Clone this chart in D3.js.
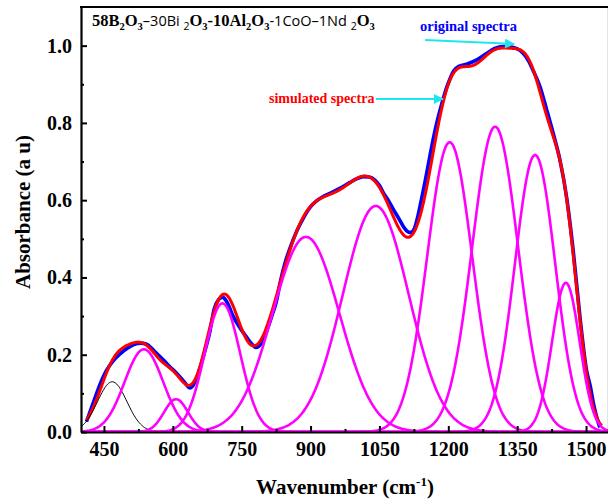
<!DOCTYPE html>
<meta charset="utf-8">
<style>
body { margin: 0; background: #fff; }
</style>
<body>
<script src="https://d3js.org/d3.v7.min.js"></script>
<script>

// Chart data.

var xTicks = [450, 600, 750, 900, 1050, 1200, 1350, 1500];
var xMinorTicks = [525, 675, 825, 975, 1125, 1275, 1425];
var yTicks = [0, 0.2, 0.4, 0.6, 0.8, 1.0];
var yMinorTicks = [0.1, 0.3, 0.5, 0.7, 0.9];

// Fitted gaussian components (magenta): centre, height, width (sigma) in cm-1.
var peakCenter = [537, 607, 708, 890, 1042, 1203, 1302, 1389, 1456];
var peakHeight = [0.214, 0.085, 0.333, 0.505, 0.585, 0.75, 0.79, 0.717, 0.386];
var peakSigma = [42, 26, 39, 73, 72, 49, 50, 44, 30];

// Extra component drawn in black.
var blackCenter = [468];
var blackHeight = [0.13];
var blackSigma = [32];

var origWavenumber = [412, 425, 441, 455, 470, 485, 500, 515, 529, 543, 555, 565, 580, 594, 605, 616, 628, 637, 645, 652, 659, 670, 681, 690, 700, 708, 718, 732, 746, 761, 772, 781, 792, 804, 815, 826, 834, 845, 855, 870, 884, 898, 913, 930, 950, 968, 986, 1000, 1015, 1028, 1040, 1050, 1058, 1070, 1080, 1092, 1102, 1110, 1118, 1126, 1134, 1142, 1150, 1160, 1172, 1186, 1196, 1204, 1212, 1222, 1240, 1262, 1284, 1300, 1313, 1330, 1342, 1353, 1363, 1375, 1385, 1400, 1414, 1428, 1443, 1458, 1472, 1487, 1501, 1509, 1516, 1524, 1530];
var origAbsorbance = [0.027, 0.07, 0.122, 0.158, 0.184, 0.202, 0.216, 0.226, 0.23, 0.227, 0.215, 0.203, 0.186, 0.168, 0.156, 0.142, 0.125, 0.114, 0.122, 0.14, 0.165, 0.21, 0.262, 0.318, 0.343, 0.349, 0.336, 0.298, 0.27, 0.245, 0.228, 0.219, 0.228, 0.26, 0.298, 0.34, 0.388, 0.44, 0.475, 0.52, 0.553, 0.58, 0.598, 0.611, 0.622, 0.633, 0.646, 0.655, 0.661, 0.66, 0.652, 0.638, 0.62, 0.598, 0.577, 0.553, 0.532, 0.52, 0.516, 0.526, 0.56, 0.605, 0.652, 0.715, 0.785, 0.85, 0.89, 0.915, 0.935, 0.946, 0.952, 0.963, 0.98, 0.992, 0.997, 0.998, 0.995, 0.99, 0.98, 0.96, 0.935, 0.893, 0.835, 0.775, 0.705, 0.605, 0.47, 0.295, 0.16, 0.12, 0.075, 0.035, 0.012];

var simStart = 412, simEnd = 1534;

// SVG container.

var width = 608,
    height = 502;

var svg = d3.select("body").append("svg")
    .attr("width", width)
    .attr("height", height)
    .style("display", "block");

var x = d3.scaleLinear().domain([400, 1550]).range([81, 609]);
var y = d3.scaleLinear().domain([0, 1.1]).range([432, 7]);

var serif = "'Liberation Serif', 'Times New Roman', serif";
var sans = "'Open Sans', 'DejaVu Sans', sans-serif";

function g1(w, c, h, s) {
    return h * Math.exp(-(w - c) * (w - c) / (2 * s * s));
}

// Gaussian curve of one component over the whole axis.
function gauss(c, h, s, lo, hi) {
    var pts = [];
    for (var w = lo; w <= hi; w += 2) pts.push([w, g1(w, c, h, s)]);
    return pts;
}

var line = d3.line()
    .x(function(d) { return x(d[0]); })
    .y(function(d) { return y(d[1]); });

var smooth = d3.line()
    .curve(d3.curveMonotoneX)
    .x(function(d) { return x(d[0]); })
    .y(function(d) { return y(d[1]); });

svg.append("clipPath").attr("id", "plot")
    .append("rect").attr("x", 81).attr("y", 7).attr("width", 528).attr("height", 425);

var plot = svg.append("g").attr("clip-path", "url(#plot)");

// Measured spectrum.
var orig = origWavenumber.map(function(w, i) { return [w, origAbsorbance[i]]; });
plot.append("path")
    .attr("d", smooth(orig))
    .attr("fill", "none")
    .attr("stroke", "#0000ff")
    .attr("stroke-width", 3.6);

// Simulated spectrum = sum of the components.
var sim = [];
for (var w = simStart; w <= simEnd; w += 2) {
    var s = g1(w, blackCenter[0], blackHeight[0], blackSigma[0]);
    peakCenter.forEach(function(c, i) { s += g1(w, c, peakHeight[i], peakSigma[i]); });
    sim.push([w, s]);
}
plot.append("path")
    .attr("d", line(sim))
    .attr("fill", "none")
    .attr("stroke", "#ff0000")
    .attr("stroke-width", 3);

// Black component.
plot.append("path")
    .attr("d", line(gauss(blackCenter[0], blackHeight[0], blackSigma[0], 400, 1550)))
    .attr("fill", "none")
    .attr("stroke", "#000")
    .attr("stroke-width", 1);

// Magenta components.
peakCenter.forEach(function(c, i) {
    plot.append("path")
        .attr("d", line(gauss(c, peakHeight[i], peakSigma[i], 400, 1550)))
        .attr("fill", "none")
        .attr("stroke", "#ff00ff")
        .attr("stroke-width", 2.6);
});

// Axes.

svg.append("g")
    .attr("transform", "translate(0,432)")
    .call(d3.axisBottom(x).tickValues(xTicks).tickSize(-6).tickSizeOuter(0).tickPadding(10).tickFormat(d3.format("d")));
svg.append("g")
    .attr("transform", "translate(0,432)")
    .call(d3.axisBottom(x).tickValues(xMinorTicks).tickSize(-3).tickSizeOuter(0).tickFormat(""))
    .select(".domain").remove();

svg.append("g")
    .attr("transform", "translate(81,0)")
    .call(d3.axisLeft(y).tickValues(yTicks).tickSize(-6).tickSizeOuter(0).tickPadding(9).tickFormat(d3.format(".1f")));
svg.append("g")
    .attr("transform", "translate(81,0)")
    .call(d3.axisLeft(y).tickValues(yMinorTicks).tickSize(-3).tickSizeOuter(0).tickFormat(""))
    .select(".domain").remove();

svg.selectAll(".domain").attr("stroke-width", 2.2);
svg.selectAll(".tick line").attr("stroke-width", 2);
svg.selectAll(".tick text")
    .attr("font-family", serif)
    .attr("font-weight", "bold")
    .attr("font-size", 20)
    .attr("fill", "#000");

// top and right frame
svg.append("line").attr("x1", 80).attr("x2", 610).attr("y1", 7).attr("y2", 7)
    .attr("stroke", "#000").attr("stroke-width", 2.2);
svg.append("line").attr("x1", 609).attr("x2", 609).attr("y1", 7).attr("y2", 432)
    .attr("stroke", "#000").attr("stroke-width", 2.2);

// Axis titles.

svg.append("text")
    .attr("transform", "translate(30,212) rotate(-90)")
    .attr("text-anchor", "middle")
    .attr("font-family", serif)
    .attr("font-weight", "bold")
    .attr("font-size", 21)
    .text("Absorbance (a u)");

var xt = svg.append("text")
    .attr("x", 345)
    .attr("y", 494)
    .attr("text-anchor", "middle")
    .attr("font-family", serif)
    .attr("font-weight", "bold")
    .attr("font-size", 21);
xt.append("tspan").text("Wavenumber (cm");
xt.append("tspan").attr("dy", -8).attr("font-size", 13).text("-1");
xt.append("tspan").attr("dy", 8).text(")");

// Composition title with subscripts.

var titleParts = [
    ["58B", "b"], ["2", "b", 1], ["O", "b"], ["3", "b", 1],
    ["\u201330Bi ", "s"], ["2", "s", 1], ["O", "b"], ["3", "b", 1],
    ["-10Al", "b"], ["2", "b", 1], ["O", "b"], ["3", "b", 1],
    ["-1CoO\u20131Nd ", "s"], ["2", "s", 1], ["O", "b"], ["3", "b", 1]
];
var title = svg.append("text")
    .attr("x", 92)
    .attr("y", 26)
    .attr("fill", "#000");
var shift = 0;
titleParts.forEach(function(p) {
    var want = p[2] ? 4 : 0;
    title.append("tspan")
        .attr("dy", want - shift)
        .attr("font-family", p[1] == "b" ? serif : sans)
        .attr("font-weight", p[1] == "b" ? "bold" : "normal")
        .attr("font-size", p[2] ? 10.5 : (p[1] == "b" ? 16.5 : 14.5))
        .text(p[0]);
    shift = want;
});

// Legend labels and arrows.

svg.append("defs").append("marker")
    .attr("id", "head")
    .attr("viewBox", "0 0 10 10")
    .attr("refX", 9).attr("refY", 5)
    .attr("markerWidth", 6).attr("markerHeight", 5)
    .attr("orient", "auto")
    .append("path").attr("d", "M0,0L10,5L0,10z").attr("fill", "#1ee6f0");

svg.append("text")
    .attr("x", 420).attr("y", 31)
    .attr("font-family", serif).attr("font-weight", "bold").attr("font-size", 14.5)
    .attr("fill", "#0000ff")
    .text("original spectra");
svg.append("line")
    .attr("x1", 425).attr("y1", 40).attr("x2", 514).attr("y2", 44)
    .attr("stroke", "#1ee6f0").attr("stroke-width", 2)
    .attr("marker-end", "url(#head)");

svg.append("text")
    .attr("x", 269).attr("y", 103)
    .attr("font-family", serif).attr("font-weight", "bold").attr("font-size", 14)
    .attr("fill", "#ff0000")
    .text("simulated spectra");
svg.append("line")
    .attr("x1", 376).attr("y1", 99).attr("x2", 443).attr("y2", 99)
    .attr("stroke", "#1ee6f0").attr("stroke-width", 2)
    .attr("marker-end", "url(#head)");

</script>
